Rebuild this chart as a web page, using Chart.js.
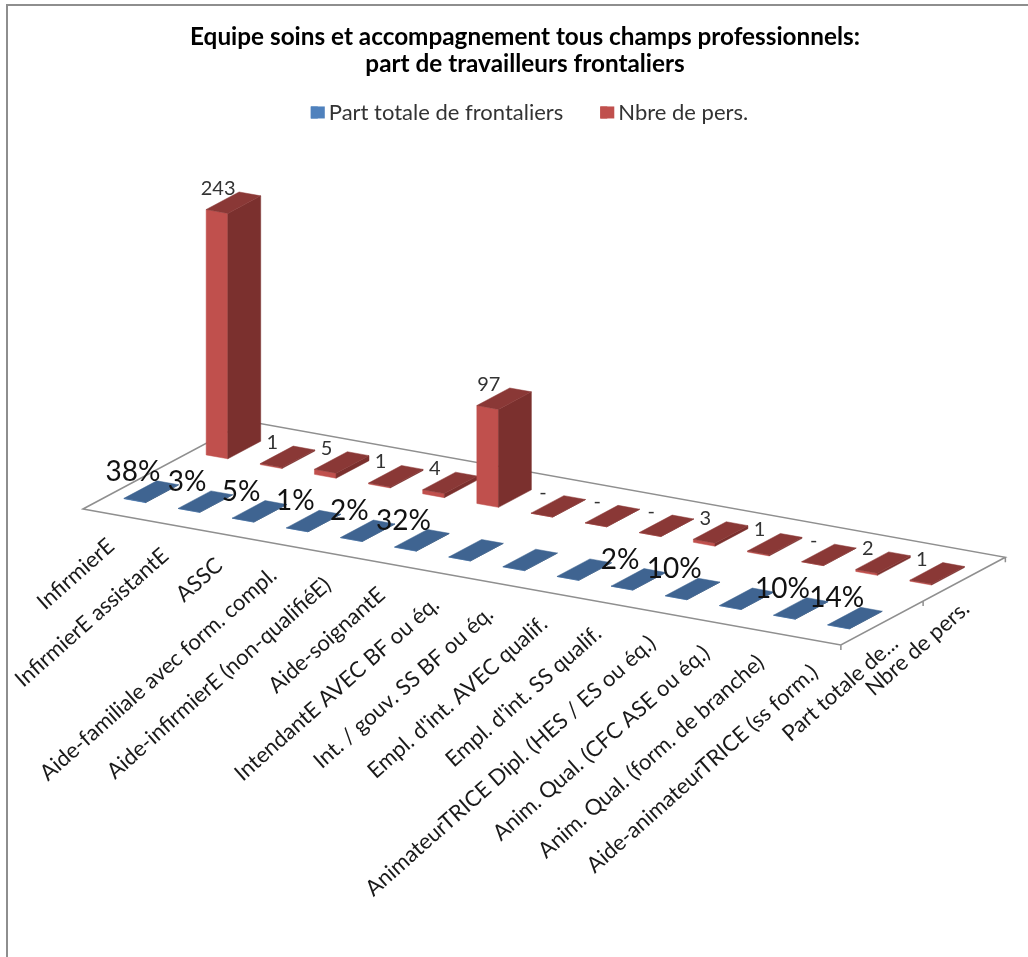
<!DOCTYPE html>
<html lang="fr">
<head>
<meta charset="utf-8">
<title>Part de travailleurs frontaliers</title>
<script src="https://cdn.jsdelivr.net/npm/chart.js@4/dist/chart.umd.js"></script>
<style>
    html, body { margin: 0; height: 100%; overflow: hidden; background: #fff; }
    #frame { position: absolute; left: 6px; top: 4px; width: 1100px; height: 1100px; border: 2px solid #8e8e8e; }
    #wrap { position: absolute; left: 0; top: 0; width: 1028px; height: 957px; }
</style>
</head>
<body>
<div id="frame"></div>
<div id="wrap"><canvas id="chart"></canvas></div>
<script>
"use strict";

const titleLines = ["Equipe soins et accompagnement tous champs professionnels:", "part de travailleurs frontaliers"];
const seriesNames = ["Part totale de frontaliers", "Nbre de pers."];
const seriesTicks = ["Part totale de...", "Nbre de pers."];
const categories = [
    "InfirmierE", "InfirmierE assistantE", "ASSC", "Aide-familiale avec form. compl.",
    "Aide-infirmierE (non-qualifiéE)", "Aide-soignantE", "IntendantE AVEC BF ou éq.",
    "Int. / gouv. SS BF ou éq.", "Empl. d'int. AVEC qualif.", "Empl. d'int. SS qualif.",
    "AnimateurTRICE Dipl. (HES / ES ou éq.)", "Anim. Qual. (CFC ASE ou éq.)",
    "Anim. Qual. (form. de branche)", "Aide-animateurTRICE (ss form.)"
];
const shareValues = [0.38, 0.03, 0.05, 0.01, 0.02, 0.32, 0, 0, 0, 0.02, 0.10, 0, 0.10, 0.14];
const headcountValues = [243, 1, 5, 1, 4, 97, 0, 0, 0, 3, 1, 0, 2, 1];

// oblique projection: the category axis runs downhill, each series sits further back
const SHEAR = 0.1794;
const DEPTH = { x: 82.25, y: -43.85 };
const BAR_DEPTH = 0.4;
const LABEL_ANGLE = -41.6 * Math.PI / 180;
const FONT = "Lato, sans-serif";
const SWATCH_WIDTH = 14;

const faceOf = [
    { front: "#4f81bd", side: "#2f4d71", top: "#3f6491" },
    { front: "#c0504d", side: "#7b302e", top: "#8a3836" }
];

function toPoints(values) {
    return values.map((v, i) => ({ x: i + 0.5, y: v }));
}

function polygon(ctx, pts, color) {
    ctx.beginPath();
    pts.forEach((p, i) => i ? ctx.lineTo(p[0], p[1]) : ctx.moveTo(p[0], p[1]));
    ctx.closePath();
    ctx.fillStyle = color;
    ctx.strokeStyle = color;
    ctx.lineWidth = 0.5;
    ctx.fill();
    ctx.stroke();
}

function frontCorner(chart, el, datasetIndex) {
    const left = chart.scales.x.left;
    const s = datasetIndex + (1 - BAR_DEPTH) / 2;
    const x = el.x - el.width / 2;
    return [x + s * DEPTH.x, el.base + (x - left) * SHEAR + s * DEPTH.y];
}

function drawPrism(ctx, chart, el, datasetIndex) {
    const c = faceOf[datasetIndex];
    const [x, y] = frontCorner(chart, el, datasetIndex);
    const h = el.base - el.y;
    const wx = el.width, wy = el.width * SHEAR;
    const dx = BAR_DEPTH * DEPTH.x, dy = BAR_DEPTH * DEPTH.y;

    polygon(ctx, [[x, y], [x + wx, y + wy], [x + wx, y + wy - h], [x, y - h]], c.front);
    polygon(ctx, [[x + wx, y + wy], [x + wx + dx, y + wy + dy], [x + wx + dx, y + wy + dy - h], [x + wx, y + wy - h]], c.side);
    polygon(ctx, [[x, y - h], [x + wx, y + wy - h], [x + wx + dx, y + wy + dy - h], [x + dx, y + dy - h]], c.top);
}

function drawRotated(ctx, text, x, y) {
    ctx.save();
    ctx.translate(x, y);
    ctx.rotate(LABEL_ANGLE);
    ctx.fillText(text, 0, 0);
    ctx.restore();
}

const floor3d = {
    id: "floor3d",
    afterLayout(chart) {
        // legend row sits tighter under the title and a little right of centre
        chart.legend.top -= 13;
        chart.legend.left += 9;
    },
    beforeDatasetsDraw(chart) {
        const ctx = chart.ctx;
        const xs = chart.scales.x;
        const y0 = chart.scales.y.getPixelForValue(0);
        const endX = xs.getPixelForValue(categories.length);
        const a = [xs.left, y0];
        const c = [endX, y0 + (endX - xs.left) * SHEAR];
        const mid = [c[0] + DEPTH.x, c[1] + DEPTH.y];
        const d = [c[0] + 2 * DEPTH.x, c[1] + 2 * DEPTH.y];
        const b = [a[0] + 2 * DEPTH.x, a[1] + 2 * DEPTH.y];

        ctx.save();
        ctx.strokeStyle = "#8f8f8f";
        ctx.lineWidth = 1.5;
        ctx.beginPath();
        ctx.moveTo(a[0], a[1]);
        ctx.lineTo(c[0], c[1]);
        ctx.lineTo(d[0], d[1]);
        ctx.lineTo(b[0], b[1]);
        ctx.closePath();
        [c, mid, d].forEach(p => {
            ctx.moveTo(p[0], p[1]);
            ctx.lineTo(p[0], p[1] + 5);
        });
        ctx.stroke();

        // category labels hang under the front edge
        ctx.fillStyle = "#1a1a1a";
        ctx.font = "22px " + FONT;
        ctx.textAlign = "right";
        ctx.textBaseline = "middle";
        categories.forEach((name, i) => {
            const x = xs.getPixelForValue(i + 0.5);
            drawRotated(ctx, name, x + 1, y0 + (x - xs.left) * SHEAR + 29);
        });
        drawRotated(ctx, seriesTicks[0], c[0] + 0.5 * DEPTH.x + 13, c[1] + 0.5 * DEPTH.y + 17);
        drawRotated(ctx, seriesTicks[1], c[0] + 1.5 * DEPTH.x + 2, c[1] + 1.5 * DEPTH.y + 26);
        ctx.restore();
    },
    beforeDatasetDraw(chart, args) {
        const meta = chart.getDatasetMeta(args.index);
        meta.data.forEach(el => drawPrism(chart.ctx, chart, el, args.index));
        return false;
    },
    afterDatasetsDraw(chart) {
        const ctx = chart.ctx;
        ctx.save();
        ctx.textAlign = "center";
        ctx.textBaseline = "middle";

        ctx.fillStyle = "#333";
        ctx.font = "20px " + FONT;
        chart.getDatasetMeta(1).data.forEach((el, i) => {
            const v = headcountValues[i];
            const [x, y] = frontCorner(chart, el, 1);
            ctx.fillText(v === 0 ? "-" : String(v), x + 12, y - (el.base - el.y) - 21);
        });

        ctx.fillStyle = "#111";
        ctx.font = "28px " + FONT;
        chart.getDatasetMeta(0).data.forEach((el, i) => {
            const v = shareValues[i];
            if (v === 0) return;
            const [x, y] = frontCorner(chart, el, 0);
            ctx.fillText(Math.round(v * 100) + "%", x + 9, y - (el.base - el.y) - 26.5);
        });
        ctx.restore();
    },
    afterDraw(chart) {
        // legend swatches are wider than the gap the legend leaves for them
        const ctx = chart.ctx;
        chart.legend.legendHitBoxes.forEach((hit, i) => {
            const boxH = chart.options.plugins.legend.labels.boxHeight;
            ctx.fillStyle = chart.data.datasets[i].backgroundColor;
            ctx.fillRect(hit.left, hit.top + (hit.height - boxH) / 2, SWATCH_WIDTH, boxH);
        });
    }
};

new Chart(document.getElementById("chart"), {
    type: "bar",
    data: {
        datasets: [
            { label: seriesNames[0], data: toPoints(shareValues), backgroundColor: "#4f81bd" },
            { label: seriesNames[1], data: toPoints(headcountValues), backgroundColor: "#c0504d" }
        ]
    },
    options: {
        responsive: true,
        maintainAspectRatio: false,
        animation: false,
        grouped: false,
        categoryPercentage: 1,
        barPercentage: 0.4,
        layout: { padding: { left: 83, right: 61, top: 0, bottom: 448 } },
        scales: {
            x: { type: "linear", display: false, offset: false, min: 0, max: 16.33 },
            y: { display: false, min: 0, max: 359 }
        },
        plugins: {
            tooltip: { enabled: false },
            title: {
                display: true,
                text: titleLines,
                color: "#000",
                font: { family: FONT, size: 24.3, weight: "bold", lineHeight: 1.1 },
                padding: { top: 24, bottom: 0 }
            },
            legend: {
                position: "top",
                labels: {
                    boxWidth: SWATCH_WIDTH / 2,
                    boxHeight: 12,
                    padding: 37,
                    color: "#333",
                    font: { family: FONT, size: 22 }
                }
            }
        }
    },
    plugins: [floor3d]
});
</script>
</body>
</html>
